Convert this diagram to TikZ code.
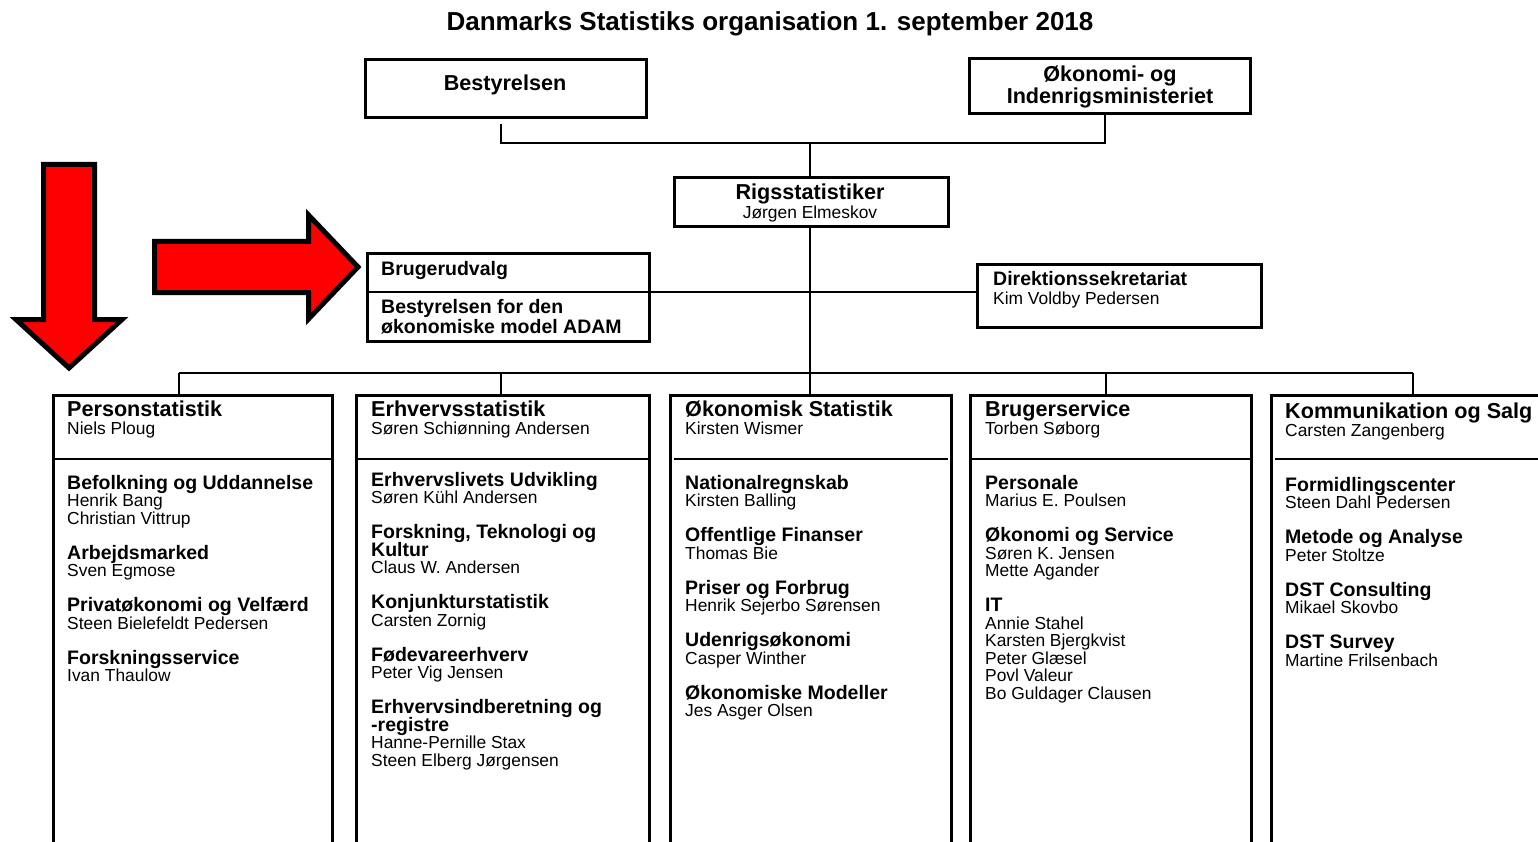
\documentclass[tikz,border=0pt]{standalone}
\usepackage{fontspec}
\setmainfont{Liberation Sans}
\usetikzlibrary{positioning}

\newcommand{\tightlines}{\lineskiplimit-50pt\relax}
\tikzset{
  frame/.style={draw, line width=3pt, inner sep=0pt},
  link/.style={line width=2pt},
  thinlink/.style={line width=1.5pt},
  divider/.style={line width=2.5pt},
  redarrow/.style={draw, fill=red, line width=5pt},
  unit/.style={anchor=north west, align=left, inner sep=0pt, font=\fontsize{17.4}{17.5}\selectfont\tightlines},
}
\newcommand{\divhead}[1]{{\fontsize{21.6}{17.5}\selectfont\bfseries #1}}
\newcommand{\unithead}[1]{{\fontsize{19.5}{17.5}\selectfont\bfseries #1}}

\begin{document}
\begin{tikzpicture}[x=1pt, y=-1pt]
        \useasboundingbox (0,0) rectangle (1538,842);
        \clip (0,0) rectangle (1538,842);

        \node[anchor=base, inner sep=0pt, font=\fontsize{26}{26}\selectfont\bfseries] (title) at (770,31) {Danmarks Statistiks organisation 1. september 2018};

        % top level
        \node[frame, minimum width=281pt, minimum height=58pt] (bestyr) at (506,88.5) {};
        \node[anchor=base, inner sep=0pt] (bestyr-txt) at (505,91) {\divhead{Bestyrelsen}};
        \node[frame, minimum width=281pt, minimum height=55pt] (okm) at (1110,86) {};
        \node[anchor=north, align=center, inner sep=0pt, font=\fontsize{21.6}{20}\selectfont\bfseries] (okm-txt) at (1110,66) {Økonomi- og\\Indenrigsministeriet};

        \node[frame, minimum width=274pt, minimum height=49pt] (rigs) at (811.5,202) {};
        \node[anchor=north, align=center, inner sep=0pt, font=\fontsize{17.4}{18.5}\selectfont] (rigs-txt) at (810,184) {\divhead{Rigsstatistiker}\\Jørgen Elmeskov};

        \node[frame, minimum width=282pt, minimum height=88pt] (brug) at (508.5,297.5) {};
        \node[anchor=base west, inner sep=0pt] (brug-txt) at (381,275) {\unithead{Brugerudvalg}};
        \node[unit, font=\fontsize{19.5}{20}\selectfont\bfseries] (adam-txt) at (381,299) {Bestyrelsen for den\\økonomiske model ADAM};

        \node[frame, minimum width=284pt, minimum height=63pt] (dir) at (1119.5,296) {};
        \node[unit, font=\fontsize{17.4}{19}\selectfont] (dir-txt) at (993,271) {\unithead{Direktionssekretariat}\\Kim Voldby Pedersen};

        \coordinate (j1) at (810,143);
        \coordinate (mid) at (0,292);
        \draw[link] ([xshift=-5pt, yshift=-5pt]bestyr.south) |- (j1) -| ([xshift=-5pt]okm.south);
        \draw[link] (j1) -- (j1 |- rigs.north);
        \draw[thinlink] (brug.west |- mid) -- (brug.east |- mid);
        \draw[thinlink] (brug.east |- mid) -- (dir.west |- mid);

        % divisions
        \node[frame, anchor=north, minimum width=279pt, minimum height=520pt] (ps) at (193,393.5) {};
        \node[frame, anchor=north, minimum width=293pt, minimum height=520pt] (es) at (503,393.5) {};
        \node[frame, anchor=north, minimum width=281pt, minimum height=520pt] (os) at (811,393.5) {};
        \node[frame, anchor=north, minimum width=281pt, minimum height=520pt] (bs) at (1111,393.5) {};
        \node[frame, anchor=north, minimum width=281pt, minimum height=520pt] (ks) at (1412,393.5) {};

        \draw[link] (j1 |- rigs.south) -- (j1 |- os.north);
        \coordinate (bar1) at (179,373);
        \coordinate (bar2) at (501,373);
        \coordinate (bar4) at (1106,373);
        \coordinate (bar5) at (1413,373);
        \draw[divider] (bar1) -- (bar5);
        \foreach \b/\u in {1/ps, 2/es, 4/bs, 5/ks}
            \draw[link] (bar\b) -- (bar\b |- \u.north);

        \coordinate (cut) at (0,459);
        \draw[divider] ([xshift=3pt]ps.west |- cut) -- ([xshift=-3pt]ps.east |- cut);
        \draw[divider] ([xshift=3pt]es.west |- cut) -- ([xshift=-3pt]es.east |- cut);
        \draw[thinlink] ([xshift=5pt]os.west |- cut) -- ([xshift=-5pt]os.east |- cut);
        \draw[thinlink] ([xshift=3pt]bs.west |- cut) -- ([xshift=-3pt]bs.east |- cut);
        \draw[divider] ([xshift=5pt]ks.west |- cut) -- ([xshift=-3pt]ks.east |- cut);

        \node[unit] (ps-head) at (67,401) {\divhead{Personstatistik}\\Niels Ploug};
        \node[unit] (es-head) at (371,401) {\divhead{Erhvervsstatistik}\\Søren Schiønning Andersen};
        \node[unit] (os-head) at (685,401) {\divhead{Økonomisk Statistik}\\Kirsten Wismer};
        \node[unit] (bs-head) at (985,401) {\divhead{Brugerservice}\\Torben Søborg};
        \node[unit] (ks-head) at (1285,403) {\divhead{Kommunikation og Salg}\\Carsten Zangenberg};

        \node[unit] (ps-list) at (67,475) {\unithead{Befolkning og Uddannelse}\\Henrik Bang\\Christian Vittrup\\[17.5pt]
            \unithead{Arbejdsmarked}\\Sven Egmose\\[17.5pt]
            \unithead{Privatøkonomi og Velfærd}\\Steen Bielefeldt Pedersen\\[17.5pt]
            \unithead{Forskningsservice}\\Ivan Thaulow};
        \node[unit] (es-list) at (371,472) {\unithead{Erhvervslivets Udvikling}\\Søren Kühl Andersen\\[17.5pt]
            \unithead{Forskning, Teknologi og}\\\unithead{Kultur}\\Claus W. Andersen\\[17.5pt]
            \unithead{Konjunkturstatistik}\\Carsten Zornig\\[17.5pt]
            \unithead{Fødevareerhverv}\\Peter Vig Jensen\\[17.5pt]
            \unithead{Erhvervsindberetning og}\\\unithead{-registre}\\Hanne-Pernille Stax\\Steen Elberg Jørgensen};
        \node[unit] (os-list) at (685,475) {\unithead{Nationalregnskab}\\Kirsten Balling\\[17.5pt]
            \unithead{Offentlige Finanser}\\Thomas Bie\\[17.5pt]
            \unithead{Priser og Forbrug}\\Henrik Sejerbo Sørensen\\[17.5pt]
            \unithead{Udenrigsøkonomi}\\Casper Winther\\[17.5pt]
            \unithead{Økonomiske Modeller}\\Jes Asger Olsen};
        \node[unit] (bs-list) at (985,475) {\unithead{Personale}\\Marius E. Poulsen\\[17.5pt]
            \unithead{Økonomi og Service}\\Søren K. Jensen\\Mette Agander\\[17.5pt]
            \unithead{IT}\\Annie Stahel\\Karsten Bjergkvist\\Peter Glæsel\\Povl Valeur\\Bo Guldager Clausen};
        \node[unit] (ks-list) at (1285,477) {\unithead{Formidlingscenter}\\Steen Dahl Pedersen\\[17.5pt]
            \unithead{Metode og Analyse}\\Peter Stoltze\\[17.5pt]
            \unithead{DST Consulting}\\Mikael Skovbo\\[17.5pt]
            \unithead{DST Survey}\\Martine Frilsenbach};

        % red arrows
        \draw[redarrow] (43.5,164.5) -- (94.5,164.5) -- (94.5,319.5) -- (122,319.5) -- (69,368) -- (16,319.5) -- (43.5,319.5) -- cycle;
        \draw[redarrow] (154.5,241.5) -- (308.5,241.5) -- (308.5,215) -- (358,267) -- (308.5,319) -- (308.5,292.5) -- (154.5,292.5) -- cycle;
\end{tikzpicture}
\end{document}
